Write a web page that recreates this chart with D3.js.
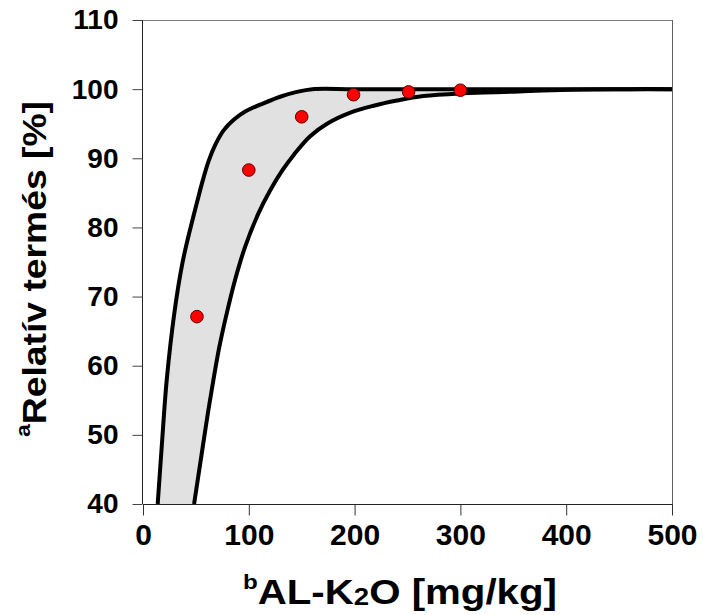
<!DOCTYPE html>
<html>
<head>
<meta charset="utf-8">
<script src="https://cdn.jsdelivr.net/npm/d3@7"></script>
<style>
  html, body { margin: 0; padding: 0; background: #fff; }
  svg { display: block; font-family: "Liberation Sans", Arial, sans-serif; }
</style>
</head>
<body>
<svg id="chart" width="703" height="615"></svg>
<script>
// ---- data ----
const xTicks = [0, 100, 200, 300, 400, 500];
const yTicks = [40, 50, 60, 70, 80, 90, 100, 110];

const obsX = [51, 100, 150, 199, 251, 300];
const obsY = [67.1, 88.3, 96.0, 99.2, 99.6, 99.85];

// upper (left) bound of the band
const upperX = [13.9, 17.7, 22.4, 29.6, 37.2, 45, 51, 56.5, 62, 68.5, 76, 86, 97, 113.8, 129.6, 145.4, 160, 200, 300, 400, 500];
const upperY = [40, 48.3, 57.9, 67.6, 74.8, 80, 83.6, 86.8, 89.6, 92, 94, 95.6, 96.8, 97.95, 98.9, 99.6, 100, 100, 100, 100, 100];

// lower (right) bound of the band
const lowerX = [48.3, 56.5, 61.3, 66.5, 72.2, 79.2, 87, 96.5, 109, 120, 131.5, 143, 158, 174, 196, 218, 240, 265, 303, 350, 378, 420, 460, 500];
const lowerY = [40, 48.3, 53.1, 57.9, 62.75, 67.6, 72.4, 77.2, 82, 85.3, 88.2, 90.6, 93.2, 95.0, 96.6, 97.6, 98.35, 99.0, 99.4, 99.63, 99.8, 99.95, 100, 100];

// ---- layout ----
const svg = d3.select("#chart");
const pL = 143, pR = 672, pT = 20, pB = 504;

const x = d3.scaleLinear().domain([0, 500]).range([pL, pR]);
const y = d3.scaleLinear().domain([40, 110]).range([pB, pT]);

svg.append("defs").append("clipPath").attr("id", "clip")
  .append("rect").attr("x", pL).attr("y", pT).attr("width", pR - pL).attr("height", pB - pT);

const upper = upperX.map((v, i) => [v, upperY[i]]);
const lower = lowerX.map((v, i) => [v, lowerY[i]]);

const line = d3.line().x(d => x(d[0])).y(d => y(d[1])).curve(d3.curveCatmullRom.alpha(0.5));

// band fill: upper path followed by reversed lower path
const lowerRev = lower.slice().reverse();
const p1 = line(upper);
const p2 = line(lowerRev).replace(/^M/, "L");
const g = svg.append("g").attr("clip-path", "url(#clip)");
g.append("path").attr("d", p1 + p2 + "Z").attr("fill", "#e1e1e1").attr("stroke", "none");

g.append("path").attr("d", line(lower)).attr("fill", "none").attr("stroke", "#000").attr("stroke-width", 4).attr("stroke-linejoin", "round");
g.append("path").attr("d", line(upper)).attr("fill", "none").attr("stroke", "#000").attr("stroke-width", 4).attr("stroke-linejoin", "round");

// frame top/right
svg.append("line").attr("x1", pL).attr("x2", pR).attr("y1", pT + 0.5).attr("y2", pT + 0.5).attr("stroke", "#808080");
svg.append("line").attr("x1", pR + 0.5).attr("x2", pR + 0.5).attr("y1", pT).attr("y2", pB).attr("stroke", "#606060");

// axes
const xAxis = d3.axisBottom(x).tickValues(xTicks).tickSize(11).tickPadding(8).tickFormat(d3.format("d"));
const yAxis = d3.axisLeft(y).tickValues(yTicks).tickSize(10).tickPadding(14).tickFormat(d3.format("d"));

const gx = svg.append("g").attr("transform", `translate(0,${pB + 0.5})`).call(xAxis);
const gy = svg.append("g").attr("transform", `translate(${pL - 0.5},0)`).call(yAxis);

gx.select(".domain").attr("stroke", "#222").attr("d", `M${pL},0H${pR + 1}`);
gy.select(".domain").attr("stroke", "#222").attr("d", `M0,${pT}V${pB}`);
gx.selectAll(".tick line").attr("stroke", "#333");
gy.selectAll(".tick line").attr("stroke", "#444");
gx.selectAll(".tick text").attr("font-size", 30).attr("font-weight", "bold").attr("fill", "#000")
  .attr("font-family", "Liberation Sans, Arial, sans-serif");
gy.selectAll(".tick text").attr("font-size", 28).attr("font-weight", "bold").attr("fill", "#000")
  .attr("font-family", "Liberation Sans, Arial, sans-serif");

// points
svg.append("g").selectAll("circle").data(obsX.map((v, i) => [v, obsY[i]])).join("circle")
  .attr("cx", d => x(d[0])).attr("cy", d => y(d[1])).attr("r", 6.3)
  .attr("fill", "#ff0000").attr("stroke", "#5a0000").attr("stroke-width", 1);

// x label
const xl = svg.append("text").attr("x", 400).attr("y", 604).attr("text-anchor", "middle")
  .attr("font-size", 35).attr("font-weight", "bold").attr("fill", "#000")
  .attr("textLength", 314).attr("lengthAdjust", "spacingAndGlyphs");
xl.append("tspan").attr("font-size", 21).attr("dy", -15).text("b");
xl.append("tspan").attr("dy", 15).text("AL-K");
xl.append("tspan").attr("font-size", 24).attr("dy", 1).text("2");
xl.append("tspan").attr("dy", -1).text("O [mg/kg]");

// y label
const yl = svg.append("text").attr("transform", "translate(46,269) rotate(-90)").attr("text-anchor", "middle")
  .attr("font-size", 34).attr("font-weight", "bold").attr("fill", "#000")
  .attr("textLength", 336).attr("lengthAdjust", "spacingAndGlyphs");
yl.append("tspan").attr("font-size", 21).attr("dy", -16).text("a");
yl.append("tspan").attr("dy", 16).text("Relatív termés [%]");
</script>
</body>
</html>
